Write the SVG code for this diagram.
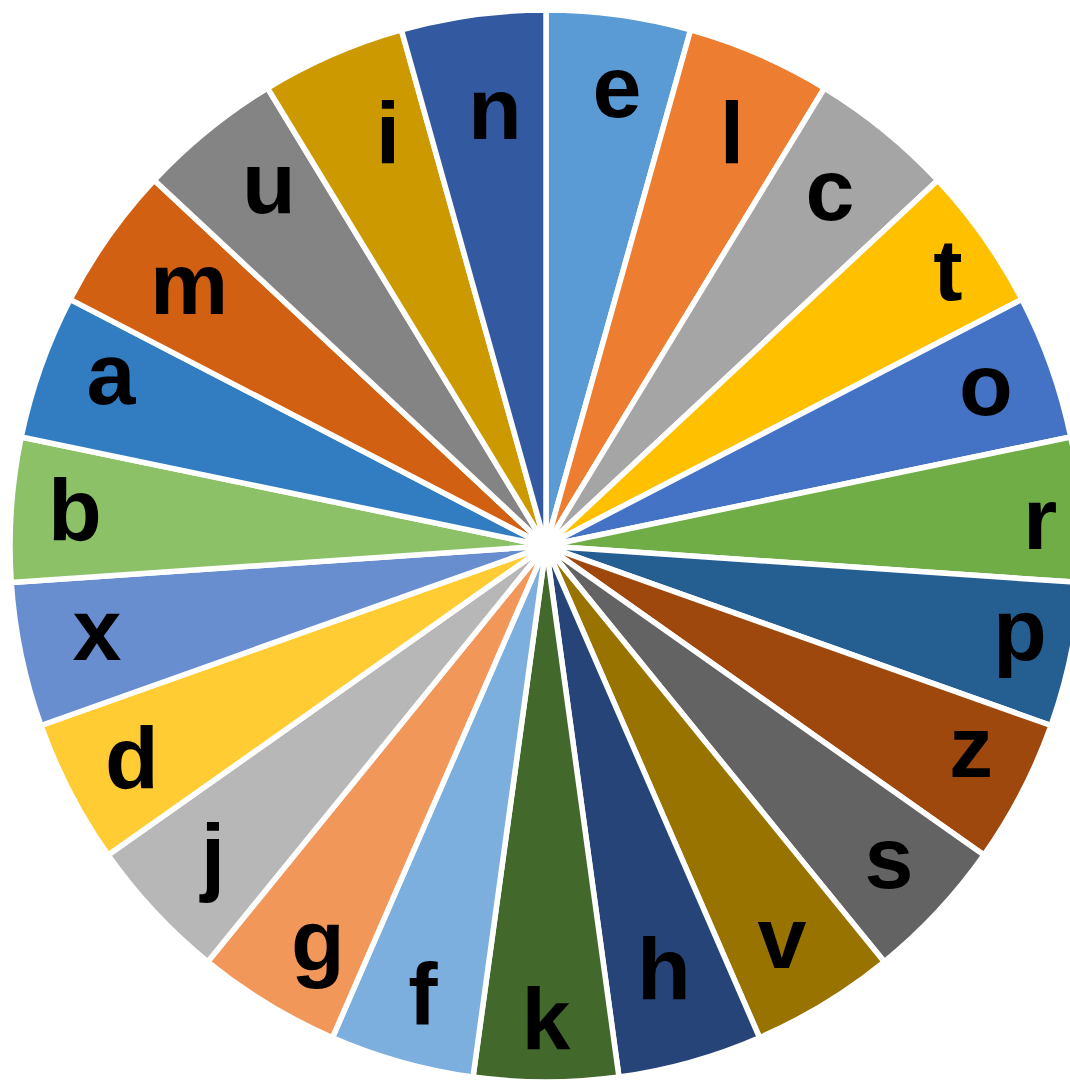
<svg xmlns="http://www.w3.org/2000/svg" width="1070" height="1081" viewBox="0 0 1070 1081">
<style>
.s{stroke:#fff;stroke-width:5.5;stroke-linejoin:round}
.l{font-family:"Liberation Sans",Arial,sans-serif;font-weight:bold;font-size:88px;fill:#000;text-anchor:middle}
</style>
<rect width="1070" height="1081" fill="#fff"/>
<g id="slices">
<g id="slice-e"><path class="s" fill="#5B9BD5" d="M546,546 L546,10 A536,536 0 0 1 690.61,29.87 Z"/><text class="l" x="617" y="117">e</text></g>
<g id="slice-l"><path class="s" fill="#ED7D31" d="M546,546 L690.61,29.87 A536,536 0 0 1 824.50,88.03 Z"/><text class="l" x="732" y="163">l</text></g>
<g id="slice-c"><path class="s" fill="#A5A5A5" d="M546,546 L824.50,88.03 A536,536 0 0 1 937.73,180.15 Z"/><text class="l" x="830" y="220">c</text></g>
<g id="slice-t"><path class="s" fill="#FFC000" d="M546,546 L937.73,180.15 A536,536 0 0 1 1021.91,299.41 Z"/><text class="l" x="948" y="300">t</text></g>
<g id="slice-o"><path class="s" fill="#4472C4" d="M546,546 L1021.91,299.41 A536,536 0 0 1 1070.79,436.96 Z"/><text class="l" x="986" y="415">o</text></g>
<g id="slice-r"><path class="s" fill="#70AD47" d="M546,546 L1070.79,436.96 A536,536 0 0 1 1080.76,582.59 Z"/><text class="l" x="1040" y="549">r</text></g>
<g id="slice-p"><path class="s" fill="#255E91" d="M546,546 L1080.76,582.59 A536,536 0 0 1 1051.06,725.51 Z"/><text class="l" x="1020" y="660">p</text></g>
<g id="slice-z"><path class="s" fill="#9E480E" d="M546,546 L1051.06,725.51 A536,536 0 0 1 983.90,855.11 Z"/><text class="l" x="971" y="777">z</text></g>
<g id="slice-s"><path class="s" fill="#636363" d="M546,546 L983.90,855.11 A536,536 0 0 1 884.26,961.80 Z"/><text class="l" x="889" y="888">s</text></g>
<g id="slice-v"><path class="s" fill="#997300" d="M546,546 L884.26,961.80 A536,536 0 0 1 759.54,1037.65 Z"/><text class="l" x="782" y="968">v</text></g>
<g id="slice-h"><path class="s" fill="#264478" d="M546,546 L759.54,1037.65 A536,536 0 0 1 618.97,1077.03 Z"/><text class="l" x="664" y="999">h</text></g>
<g id="slice-k"><path class="s" fill="#43682B" d="M546,546 L618.97,1077.03 A536,536 0 0 1 473.03,1077.03 Z"/><text class="l" x="546" y="1049">k</text></g>
<g id="slice-f"><path class="s" fill="#7CAFDD" d="M546,546 L473.03,1077.03 A536,536 0 0 1 332.46,1037.65 Z"/><text class="l" x="423" y="1024">f</text></g>
<g id="slice-g"><path class="s" fill="#F1975A" d="M546,546 L332.46,1037.65 A536,536 0 0 1 207.74,961.80 Z"/><text class="l" x="318" y="971">g</text></g>
<g id="slice-j"><path class="s" fill="#B7B7B7" d="M546,546 L207.74,961.80 A536,536 0 0 1 108.10,855.11 Z"/><text class="l" x="213" y="885">j</text></g>
<g id="slice-d"><path class="s" fill="#FFCD33" d="M546,546 L108.10,855.11 A536,536 0 0 1 40.94,725.51 Z"/><text class="l" x="132" y="788">d</text></g>
<g id="slice-x"><path class="s" fill="#698ED0" d="M546,546 L40.94,725.51 A536,536 0 0 1 11.24,582.59 Z"/><text class="l" x="97" y="660">x</text></g>
<g id="slice-b"><path class="s" fill="#8CC168" d="M546,546 L11.24,582.59 A536,536 0 0 1 21.21,436.96 Z"/><text class="l" x="75" y="540">b</text></g>
<g id="slice-a"><path class="s" fill="#327DC2" d="M546,546 L21.21,436.96 A536,536 0 0 1 70.09,299.41 Z"/><text class="l" x="111" y="404">a</text></g>
<g id="slice-m"><path class="s" fill="#D26012" d="M546,546 L70.09,299.41 A536,536 0 0 1 154.27,180.15 Z"/><text class="l" x="189" y="314">m</text></g>
<g id="slice-u"><path class="s" fill="#848484" d="M546,546 L154.27,180.15 A536,536 0 0 1 267.50,88.03 Z"/><text class="l" x="269" y="213">u</text></g>
<g id="slice-i"><path class="s" fill="#CC9A00" d="M546,546 L267.50,88.03 A536,536 0 0 1 401.39,29.87 Z"/><text class="l" x="388" y="163">i</text></g>
<g id="slice-n"><path class="s" fill="#335AA1" d="M546,546 L401.39,29.87 A536,536 0 0 1 546,10 Z"/><text class="l" x="495" y="139">n</text></g>
</g>
<g id="connectors"/>
</svg>
